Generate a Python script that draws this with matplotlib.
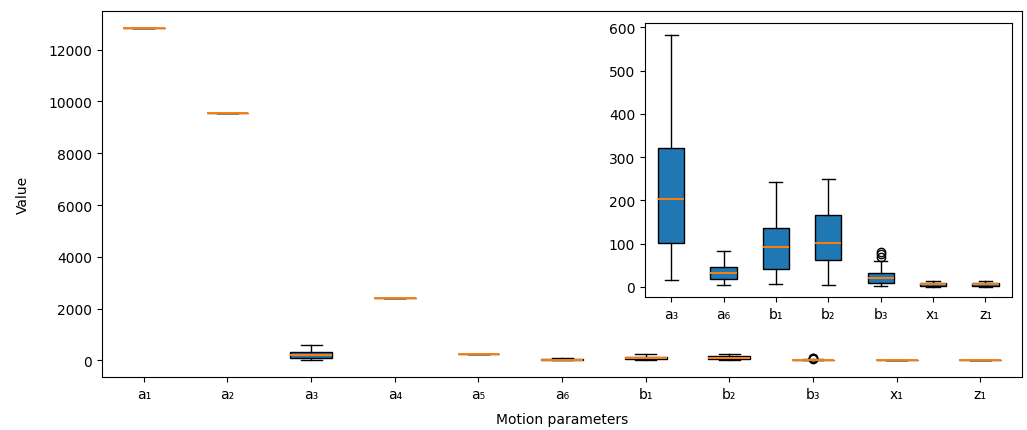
import matplotlib.pyplot as plt

# Parameter names (unicode subscripts)
labels = ['a₁', 'a₂', 'a₃', 'a₄', 'a₅', 'a₆', 'b₁', 'b₂', 'b₃', 'x₁', 'z₁']

# Box statistics
whislo = [12850, 9570, 16, 2390, 260, 4, 7, 4, 1.5, 0.5, 0.5]
q1 = [12850, 9570, 101, 2390, 260, 18, 42, 62, 9, 3, 3]
med = [12850, 9570, 203, 2390, 260, 32, 92, 101, 21, 6, 6]
q3 = [12850, 9570, 321, 2390, 260, 45, 136, 166, 31, 10, 10]
whishi = [12850, 9570, 582, 2390, 260, 84, 243, 250, 60, 13, 13]
fliers = [[], [], [], [], [], [], [], [], [69, 75, 80], [], []]

# Parameters shown in the inset
inset_labels = ['a₃', 'a₆', 'b₁', 'b₂', 'b₃', 'x₁', 'z₁']


def make_stats(names):
    stats = []
    for name in names:
        i = labels.index(name)
        stats.append(dict(label=name, whislo=whislo[i], q1=q1[i], med=med[i],
                          q3=q3[i], whishi=whishi[i], fliers=fliers[i]))
    return stats


fig = plt.figure(figsize=(10.27, 4.31), dpi=100)
median_style = dict(color='#ff7f0e', linewidth=1.4)

ax = fig.add_axes([0.0993, 0.123, 0.896, 0.849])
ax.bxp(make_stats(labels), patch_artist=True, medianprops=median_style)
ax.set_xlabel('Motion parameters', labelpad=8)
ax.set_ylabel('Value', labelpad=13)

# Inset zooming into the small-valued parameters
axin = fig.add_axes([0.628, 0.309, 0.357, 0.636])
axin.bxp(make_stats(inset_labels), patch_artist=True, medianprops=median_style)
axin.set_ylim(-23, 611)

fig.savefig('out.png', dpi=100)
